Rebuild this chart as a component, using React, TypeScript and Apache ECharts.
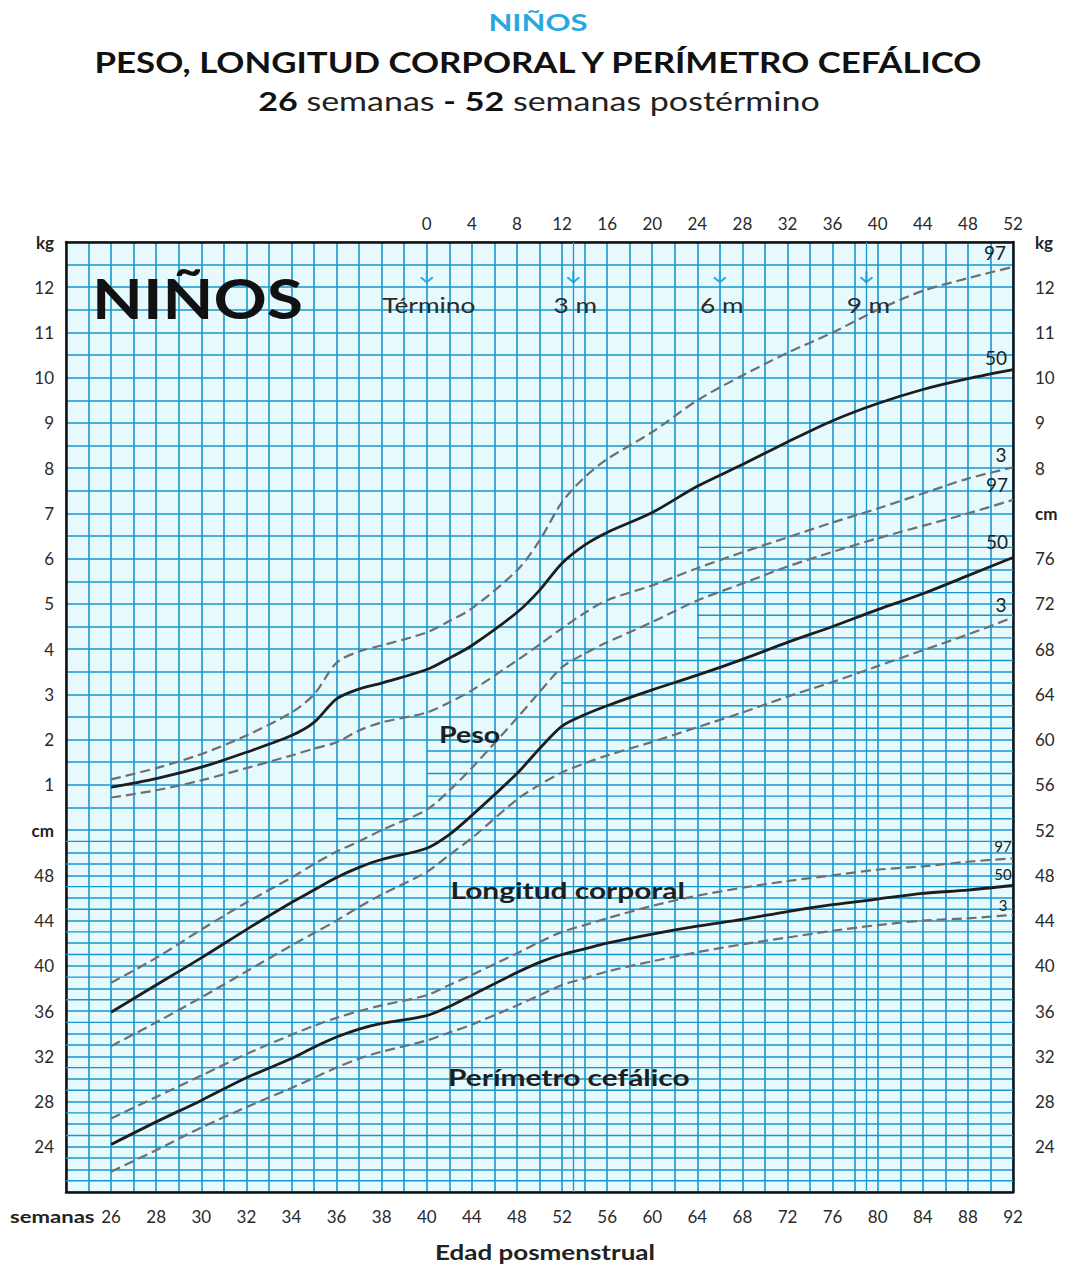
import React, { useEffect, useRef } from "react";
import * as echarts from "echarts";

// ---- Data (posmenstrual weeks) ----
const weeks = [26, 28, 30, 32, 34, 35, 36, 37, 38, 40, 42, 44, 48, 50, 52, 54, 56, 60, 64, 68, 72, 76, 80, 84, 88, 92];

// Peso (kg)
const weightP97 = [1.12, 1.37, 1.68, 2.09, 2.6, 3.0, 3.7, 3.95, 4.08, 4.37, 4.62, 4.9, 5.74, 6.4, 7.25, 7.8, 8.2, 8.8, 9.5, 10.05, 10.55, 11.0, 11.5, 11.92, 12.2, 12.45];
const weightP50 = [0.95, 1.14, 1.39, 1.72, 2.09, 2.38, 2.9, 3.12, 3.25, 3.55, 3.8, 4.08, 4.81, 5.3, 5.9, 6.3, 6.58, 7.02, 7.6, 8.08, 8.58, 9.05, 9.43, 9.74, 9.98, 10.18];
const weightP3 = [0.72, 0.88, 1.1, 1.37, 1.65, 1.8, 1.94, 2.2, 2.38, 2.6, 2.82, 3.09, 3.75, 4.1, 4.46, 4.8, 5.08, 5.41, 5.79, 6.14, 6.47, 6.8, 7.11, 7.44, 7.77, 8.02];

// Longitud corporal (cm)
const lengthP97 = [38.5, 40.7, 43.2, 45.6, 47.8, 49.0, 50.1, 51.0, 52.0, 53.8, 55.5, 57.5, 61.9, 64.2, 66.4, 67.6, 68.6, 70.4, 72.3, 73.8, 75.3, 76.6, 77.8, 78.9, 80.0, 81.2];
const lengthP50 = [35.9, 38.3, 40.7, 43.2, 45.6, 46.7, 47.8, 48.7, 49.4, 50.4, 51.6, 53.3, 57.0, 59.2, 61.2, 62.2, 63.0, 64.4, 65.7, 67.1, 68.6, 70.0, 71.5, 72.9, 74.5, 76.1];
const lengthP3 = [32.9, 35.0, 37.2, 39.5, 41.8, 42.9, 44.0, 45.2, 46.3, 48.3, 49.8, 51.3, 54.7, 56.0, 57.1, 57.9, 58.6, 59.8, 61.1, 62.4, 63.8, 65.1, 66.5, 67.9, 69.3, 70.8];

// Perímetro cefálico (cm)
const headP97 = [26.5, 28.4, 30.3, 32.2, 33.9, 34.7, 35.4, 36.0, 36.5, 37.4, 38.3, 39.2, 41.1, 42.1, 43.0, 43.6, 44.2, 45.3, 46.2, 46.9, 47.5, 48.0, 48.5, 48.8, 49.2, 49.5];
const headP50 = [24.2, 26.2, 28.1, 30.1, 31.8, 32.8, 33.7, 34.4, 34.9, 35.6, 36.4, 37.4, 39.4, 40.3, 41.0, 41.5, 42.0, 42.8, 43.5, 44.1, 44.8, 45.4, 45.9, 46.4, 46.7, 47.1];
const headP3 = [21.8, 23.7, 25.7, 27.5, 29.2, 30.1, 31.0, 31.8, 32.4, 33.4, 34.1, 34.8, 36.5, 37.4, 38.3, 38.9, 39.5, 40.4, 41.2, 41.9, 42.5, 43.1, 43.6, 44.0, 44.2, 44.5];

// Month markers (weeks after term)
const monthMarkers = ["Término", "3 m", "6 m", "9 m"];
const monthMarkerWeeks = [0, 13, 26, 39];

// Dense (1 cm) grid blocks: [from week, to week, top in cm-scale]
const denseFrom = [24, 36, 40, 52, 64];
const denseTo = [36, 40, 52, 64, 92];
const denseTop = [52, 54, 60, 68, 78];

// ---- Scale helpers ----
const TERM = 40;
const toU = (w: number) => (w <= TERM ? w - 24 : 16 + (w - TERM) / 2);
const uToWeek = (u: number) => (u <= 16 ? u + 24 : TERM + (u - 16) * 2);
const kgToV = (kg: number) => 52 + 4 * kg;
const cmToV = (cm: number) => cm;

const GRID = "#1697CF";
const BG = "#E6F9FD";
const FONT = "Lato, 'Open Sans', sans-serif";

export default function App() {
  const ref = useRef<HTMLDivElement>(null);

  useEffect(() => {
    if (!ref.current) return;
    const chart = echarts.init(ref.current, undefined, { renderer: "svg" });

    const curve = (values: number[], conv: (x: number) => number, dashed: boolean, extra: any = {}) => ({
      type: "line",
      data: weeks.map((w, i) => [toU(w), conv(values[i])]),
      showSymbol: false,
      smooth: 0.3,
      silent: true,
      z: 6,
      lineStyle: dashed
        ? { color: "#6f6f6f", width: 2.2, type: [10, 5] }
        : { color: "#1d1d1d", width: 2.8, type: "solid" },
      ...extra,
    });

    const last = weeks.length - 1;
    const textItems: any[] = [
      // percentile labels at curve ends
      { u: toU(weeks[last]), v: kgToV(weightP97[last]), dx: -18, dy: -14, text: "97", size: 19 },
      { u: toU(weeks[last]), v: kgToV(weightP50[last]), dx: -17, dy: -12, text: "50", size: 19 },
      { u: toU(weeks[last]), v: kgToV(weightP3[last]), dx: -12, dy: -13, text: "3", size: 19 },
      { u: toU(weeks[last]), v: cmToV(lengthP97[last]), dx: -16, dy: -15, text: "97", size: 19 },
      { u: toU(weeks[last]), v: cmToV(lengthP50[last]), dx: -16, dy: -16, text: "50", size: 19 },
      { u: toU(weeks[last]), v: cmToV(lengthP3[last]), dx: -12, dy: -13, text: "3", size: 19 },
      { u: toU(weeks[last]), v: cmToV(headP97[last]), dx: -10, dy: -12, text: "97", size: 15 },
      { u: toU(weeks[last]), v: cmToV(headP50[last]), dx: -10, dy: -12, text: "50", size: 15 },
      { u: toU(weeks[last]), v: cmToV(headP3[last]), dx: -10, dy: -10, text: "3", size: 15 },
      // group labels
      { u: toU(43.8), v: 60.5, dx: 0, dy: 0, text: "Peso", size: 22, bold: true, sx: 1.3 },
      { u: toU(52.5), v: 46.7, dx: 0, dy: 0, text: "Longitud corporal", size: 23, bold: true, sx: 1.3 },
      { u: toU(52.6), v: 30.1, dx: 0, dy: 0, text: "Perímetro cefálico", size: 23, bold: true, sx: 1.3 },
    ];
    monthMarkers.forEach((m, i) => {
      textItems.push({ u: toU(TERM + monthMarkerWeeks[i]), v: 98.4, dx: 2, dy: 0, text: m, size: 21, color: "#2b2b2b", sx: 1.25 });
    });

    const option: any = {
      animation: false,
      backgroundColor: "#ffffff",
      textStyle: { fontFamily: FONT },
      grid: { left: 66, right: 63, top: 242, bottom: 76, show: true, backgroundColor: BG, borderWidth: 0 },
      xAxis: [
        {
          type: "value", position: "bottom", min: 0, max: 42, interval: 1,
          axisLine: { show: true, onZero: false, lineStyle: { color: "#111", width: 2.5 } },
          axisTick: { show: false },
          splitLine: { show: true, lineStyle: { color: GRID, width: 1.6 } },
          axisLabel: {
            margin: 16, fontSize: 17, color: "#2a2a2a", fontFamily: FONT,
            formatter: (u: number) => (u % 2 !== 0 || u === 0 ? "" : String(uToWeek(u))),
          },
        },
        {
          type: "value", position: "top", min: 0, max: 42, interval: 1,
          axisLine: { show: true, onZero: false, lineStyle: { color: "#111", width: 2.5 } },
          axisTick: { show: false },
          splitLine: { show: false },
          axisLabel: {
            margin: 10, fontSize: 17, color: "#2a2a2a", fontFamily: FONT,
            formatter: (u: number) => (u >= 16 && u % 2 === 0 ? String((u - 16) * 2) : ""),
          },
        },
      ],
      yAxis: [
        {
          type: "value", position: "left", min: 20, max: 104, interval: 2,
          axisLine: { show: true, onZero: false, lineStyle: { color: "#111", width: 2.5 } },
          axisTick: { show: false },
          splitLine: { show: true, lineStyle: { color: GRID, width: 1.6 } },
          axisLabel: {
            margin: 12, fontSize: 17, color: "#2a2a2a", fontFamily: FONT,
            rich: { b: { fontWeight: "bold", fontSize: 17, color: "#222", fontFamily: FONT } },
            formatter: (v: number) => {
              if (v % 4 !== 0 || v === 20) return "";
              if (v === 104) return "{b|kg}";
              if (v === 52) return "{b|cm}";
              if (v > 52) return String((v - 52) / 4);
              return String(v);
            },
          },
        },
        {
          type: "value", position: "right", min: 20, max: 104, interval: 2,
          axisLine: { show: true, onZero: false, lineStyle: { color: "#111", width: 2.5 } },
          axisTick: { show: false },
          splitLine: { show: false },
          axisLabel: {
            margin: 22, fontSize: 17, color: "#2a2a2a", fontFamily: FONT,
            rich: { b: { fontWeight: "bold", fontSize: 17, color: "#222", fontFamily: FONT } },
            formatter: (v: number) => {
              if (v % 4 !== 0 || v === 20) return "";
              if (v === 104) return "{b|kg}";
              if (v >= 84) return String((v - 52) / 4);
              if (v === 80) return "{b|cm}";
              return String(v);
            },
          },
        },
      ],
      series: [
        // dense 1-cm horizontal grid
        {
          type: "custom", silent: true, z: 1,
          data: denseFrom.map((f, i) => [toU(f), toU(denseTo[i]), denseTop[i]]),
          renderItem: (params: any, api: any) => {
            const u0 = api.value(0), u1 = api.value(1), top = api.value(2);
            const children: any[] = [];
            for (let v = 21; v < top; v += 2) {
              const p0 = api.coord([u0, v]);
              const p1 = api.coord([u1, v]);
              children.push({ type: "line", shape: { x1: p0[0], y1: p0[1], x2: p1[0], y2: p1[1] }, style: { stroke: GRID, lineWidth: 1.4 } });
            }
            return { type: "group", children };
          },
        },
        // month marker arrows
        {
          type: "custom", silent: true, z: 4,
          data: monthMarkerWeeks.map((m) => [toU(TERM + m), 100.7]),
          renderItem: (params: any, api: any) => {
            const p = api.coord([api.value(0), api.value(1)]);
            const x = p[0], y = p[1];
            return {
              type: "group",
              children: [
                { type: "line", shape: { x1: x, y1: y - 8, x2: x, y2: y + 3 }, style: { stroke: "#2BA9E0", lineWidth: 2 } },
                { type: "polyline", shape: { points: [[x - 6, y - 2], [x, y + 3], [x + 6, y - 2]] }, style: { stroke: "#2BA9E0", lineWidth: 2, fill: "none" } },
              ],
            };
          },
        },
        curve(weightP97, kgToV, true, {
          markLine: {
            silent: true, symbol: "none", label: { show: false },
            lineStyle: { color: GRID, width: 1.3, type: "solid" },
            data: [{ xAxis: toU(TERM + 13) }, { xAxis: toU(TERM + 39) }],
          },
        }),
        curve(weightP50, kgToV, false),
        curve(weightP3, kgToV, true),
        curve(lengthP97, cmToV, true),
        curve(lengthP50, cmToV, false),
        curve(lengthP3, cmToV, true),
        curve(headP97, cmToV, true),
        curve(headP50, cmToV, false),
        curve(headP3, cmToV, true),
        // text annotations
        {
          type: "custom", silent: true, z: 8,
          data: textItems.map((t) => [t.u, t.v]),
          renderItem: (params: any, api: any) => {
            const t = textItems[params.dataIndex];
            const p = api.coord([t.u, t.v]);
            return {
              type: "text",
              x: p[0] + t.dx, y: p[1] + t.dy,
              scaleX: t.sx || 1,
              style: {
                text: t.text, fill: t.color || "#1e1e1e",
                fontSize: t.size, fontWeight: t.bold ? "bold" : "normal", fontFamily: FONT,
                align: "center", verticalAlign: "middle",
              },
            };
          },
        },
      ],
      graphic: [
        { type: "text", x: 538, y: 22, scaleX: 1.35, style: { text: "NIÑOS", fontSize: 23, fontWeight: "bold", fontFamily: FONT, fill: "#29A8E0", align: "center", verticalAlign: "middle" } },
        { type: "text", x: 538, y: 62, scaleX: 1.2, style: { text: "PESO, LONGITUD CORPORAL Y PERÍMETRO CEFÁLICO", fontSize: 29, fontWeight: "bold", fontFamily: FONT, fill: "#111", align: "center", verticalAlign: "middle" } },
        {
          type: "text", x: 539, y: 101, scaleX: 1.26,
          style: {
            text: "{b|26} semanas {b|-} {b|52} semanas postérmino",
            fontSize: 27, fontFamily: FONT, fill: "#222", align: "center", verticalAlign: "middle",
            rich: { b: { fontSize: 27, fontWeight: "bold", fontFamily: FONT, fill: "#111" } },
          },
        },
        { type: "text", x: 92, y: 298, z: 10, scaleX: 1.18, style: { text: "NIÑOS", fontSize: 56, fontWeight: "bold", fontFamily: FONT, fill: "#111", align: "left", verticalAlign: "middle" } },
        { type: "text", x: 10, y: 1217, scaleX: 1.3, style: { text: "semanas", fontSize: 17, fontWeight: "bold", fontFamily: FONT, fill: "#222", align: "left", verticalAlign: "middle" } },
        { type: "text", x: 545, y: 1252, scaleX: 1.3, style: { text: "Edad posmenstrual", fontSize: 20, fontWeight: "bold", fontFamily: FONT, fill: "#222", align: "center", verticalAlign: "middle" } },
      ],
    };

    chart.setOption(option);
    return () => chart.dispose();
  }, []);

  return <div ref={ref} style={{ position: "fixed", left: 0, top: 0, width: 1076, height: 1268 }} />;
}
